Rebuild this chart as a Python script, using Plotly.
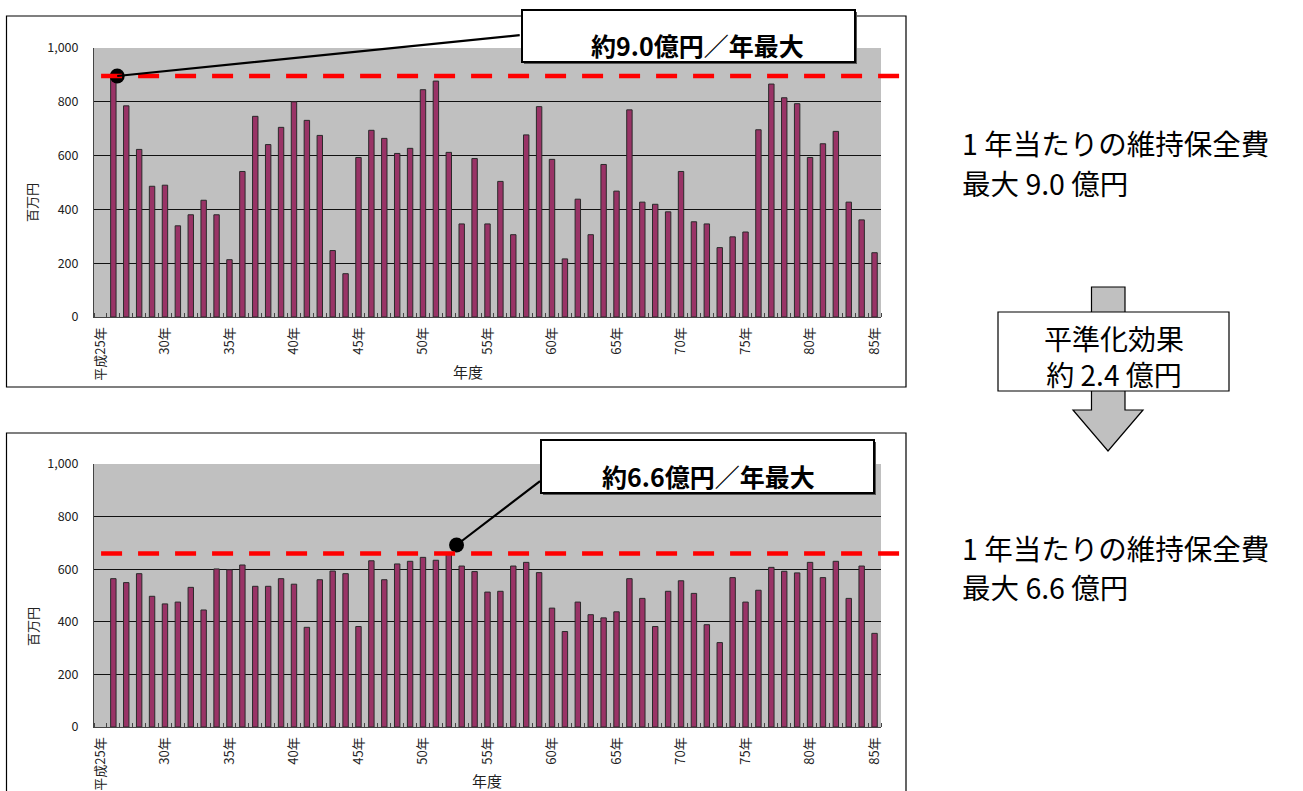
import plotly.graph_objects as go

# ---- data: maintenance cost per fiscal year (million yen), Heisei 25 .. 85 ----
years = list(range(25, 86))
tick_years = list(range(25, 86, 5))
tick_labels = ["平成25年"] + [f"{y}年" for y in tick_years[1:]]

# before levelling (no spending recorded for H25)
cost_before = [None,
               896, 785, 623, 486, 490, 339, 380, 434, 380, 213,
               541, 746, 641, 705, 800, 731, 675, 247, 161, 593,
               694, 664, 608, 627, 845, 877, 612, 346, 589, 346,
               504, 306, 677, 782, 586, 216, 438, 306, 567, 468,
               770, 427, 419, 391, 541, 354, 346, 258, 298, 316,
               696, 866, 815, 793, 593, 644, 690, 427, 361, 239]

# after levelling
cost_after = [None,
              564, 549, 583, 497, 468, 475, 531, 445, 601, 598,
              616, 535, 535, 564, 543, 379, 560, 593, 583, 382,
              632, 560, 620, 630, 645, 634, 660, 612, 591, 513,
              516, 612, 626, 587, 452, 363, 475, 427, 415, 438,
              564, 489, 382, 516, 556, 508, 389, 321, 568, 475,
              520, 607, 592, 586, 626, 568, 630, 489, 612, 356]

y_ticks = [0, 200, 400, 600, 800, 1000]

# ---- geometry helpers (page pixels -> paper fractions) ----
W, H = 1303, 791
FONT = "Noto Sans CJK JP"


def px(x):
    return x / W


def py(y):
    return 1 - y / H


idx = list(range(len(years)))
peak_before = max(v for v in cost_before if v is not None)
peak_after = max(v for v in cost_after if v is not None)
peak_before_i = cost_before.index(peak_before)
peak_after_i = cost_after.index(peak_after)

fig = go.Figure()

bar_style = dict(marker=dict(color="#993366", line=dict(color="#2a2a2a", width=1)),
                 width=0.42, showlegend=False, hoverinfo="x+y")
fig.add_trace(go.Bar(x=idx, y=cost_before, xaxis="x", yaxis="y", **bar_style))
fig.add_trace(go.Bar(x=idx, y=cost_after, xaxis="x2", yaxis="y2", **bar_style))

# callout anchor dots
dot_before = (peak_before_i + 0.3, peak_before)
dot_after = (peak_after_i + 0.6, peak_after + 32)
fig.add_trace(go.Scatter(x=[dot_before[0]], y=[dot_before[1]], xaxis="x", yaxis="y",
                         mode="markers", marker=dict(size=15, color="black"),
                         cliponaxis=False, showlegend=False, hoverinfo="skip"))
fig.add_trace(go.Scatter(x=[dot_after[0]], y=[dot_after[1]], xaxis="x2", yaxis="y2",
                         mode="markers", marker=dict(size=15, color="black"),
                         cliponaxis=False, showlegend=False, hoverinfo="skip"))

xaxis_style = dict(
    range=[-0.5, len(years) - 0.5],
    automargin=False,
    tickmode="array",
    tickvals=[y - years[0] for y in tick_years],
    ticktext=tick_labels,
    tickangle=-90,
    ticks="",
    ticklabelstandoff=4,
    tickfont=dict(family=FONT, size=13, color="#222"),
    showgrid=False,
    zeroline=False,
    showline=True,
    linecolor="#444",
    linewidth=1,
    minor=dict(tick0=0.5, dtick=1, ticks="inside", ticklen=4,
               tickcolor="#444", tickwidth=1, showgrid=False),
)
yaxis_style = dict(
    range=[0, 1000],
    automargin=False,
    tickmode="array",
    tickvals=y_ticks,
    ticktext=[f"{v:,}" for v in y_ticks],
    ticks="",
    ticklabelstandoff=12,
    tickfont=dict(family=FONT, size=12.5, color="#222"),
    showgrid=True,
    gridcolor="#111",
    gridwidth=1,
    zeroline=False,
    showline=True,
    linecolor="#444",
    linewidth=1,
)

fig.update_layout(
    template="none",
    width=W, height=H,
    margin=dict(l=0, r=0, t=0, b=0, autoexpand=False),
    font=dict(family=FONT, color="black"),
    paper_bgcolor="white",
    plot_bgcolor="#C0C0C0",
    showlegend=False,
    xaxis=dict(domain=[px(94), px(881)], anchor="y", **xaxis_style),
    yaxis=dict(domain=[py(317), py(48)], anchor="x", **yaxis_style),
    xaxis2=dict(domain=[px(94), px(881)], anchor="y2", **xaxis_style),
    yaxis2=dict(domain=[py(727), py(464)], anchor="x2", **yaxis_style),
)

shapes = []
# panel frames
shapes.append(dict(type="rect", xref="paper", yref="paper",
                   x0=px(6.5), x1=px(906), y0=py(387), y1=py(16),
                   line=dict(color="black", width=1.2), fillcolor="rgba(0,0,0,0)", layer="below"))
shapes.append(dict(type="rect", xref="paper", yref="paper",
                   x0=px(6.5), x1=px(906), y0=py(795), y1=py(433),
                   line=dict(color="black", width=1.2), fillcolor="rgba(0,0,0,0)", layer="below"))

# red dashed peak lines
for xref, yref, peak in (("x domain", "y", peak_before), ("x2 domain", "y2", peak_after)):
    shapes.append(dict(type="line", xref=xref, yref=yref,
                       x0=0.009, x1=1.027, y0=peak, y1=peak,
                       line=dict(color="#FF0000", width=4.5, dash="21px,16px")))

# callout boxes
for (x0, y0, x1, y1) in ((522, 10, 855, 62), (541, 440, 874, 493)):
    shapes.append(dict(type="rect", xref="paper", yref="paper",
                       x0=px(x0 + 2), x1=px(x1 + 2), y0=py(y1 + 2), y1=py(y0 + 2),
                       line=dict(width=0), fillcolor="#555"))
    shapes.append(dict(type="rect", xref="paper", yref="paper",
                       x0=px(x0), x1=px(x1), y0=py(y1), y1=py(y0),
                       line=dict(color="black", width=2), fillcolor="white"))

# levelling arrow (shaft + head) with the text box over it
arrow_pts = [(1091.5, 287), (1125, 287), (1125, 410), (1143, 410), (1108, 451),
             (1073, 410), (1091.5, 410)]
path = "M " + " L ".join(f"{px(x):.5f},{py(y):.5f}" for x, y in arrow_pts) + " Z"
shapes.append(dict(type="path", xref="paper", yref="paper", path=path,
                   fillcolor="#C0C0C0", line=dict(color="black", width=1.2)))
shapes.append(dict(type="rect", xref="paper", yref="paper",
                   x0=px(998), x1=px(1229), y0=py(391), y1=py(312),
                   line=dict(color="black", width=1.2), fillcolor="white"))
fig.update_layout(shapes=shapes)

ann = []


def label(x, y, text, size, **kw):
    d = dict(x=px(x), y=py(y), xref="paper", yref="paper", showarrow=False,
             xanchor="center", yanchor="middle", text=text,
             font=dict(family=FONT, size=size, color=kw.pop("color", "black")))
    d.update(kw)
    ann.append(d)


# leader lines from the peak dots to the callout boxes
ann.append(dict(x=dot_before[0], y=dot_before[1], xref="x", yref="y",
                ax=404, ay=-41, text=" ", font=dict(size=1),
                showarrow=True, arrowhead=0, arrowwidth=2.2, arrowcolor="black"))
ann.append(dict(x=dot_after[0], y=dot_after[1], xref="x2", yref="y2",
                ax=85, ay=-65, text=" ", font=dict(size=1),
                showarrow=True, arrowhead=0, arrowwidth=2.2, arrowcolor="black"))

# callout texts
label(697, 45, f"<b>約{peak_before / 100:.1f}億円／年最大</b>", 25)
label(708, 476, f"<b>約{peak_after / 100:.1f}億円／年最大</b>", 25)

# axis titles
for yc in (203, 627):
    label(32, yc, "百万円", 13, textangle=-90, color="#222")
for (xc, yc) in ((468, 371), (487, 780)):
    label(xc, yc, "年度", 15, color="#222")

# side notes
for (y1, peak) in ((143, peak_before), (547, peak_after)):
    label(960, y1, "1 年当たりの維持保全費", 28.5, xanchor="left")
    label(960, y1 + 39, f"最大 {peak / 100:.1f} 億円", 28.5, xanchor="left")

# levelling effect
label(1113.5, 356,
      f"平準化効果<br>約 {(peak_before - peak_after) / 100:.1f} 億円", 28)
fig.update_layout(annotations=ann)

fig.write_html("out.html")
